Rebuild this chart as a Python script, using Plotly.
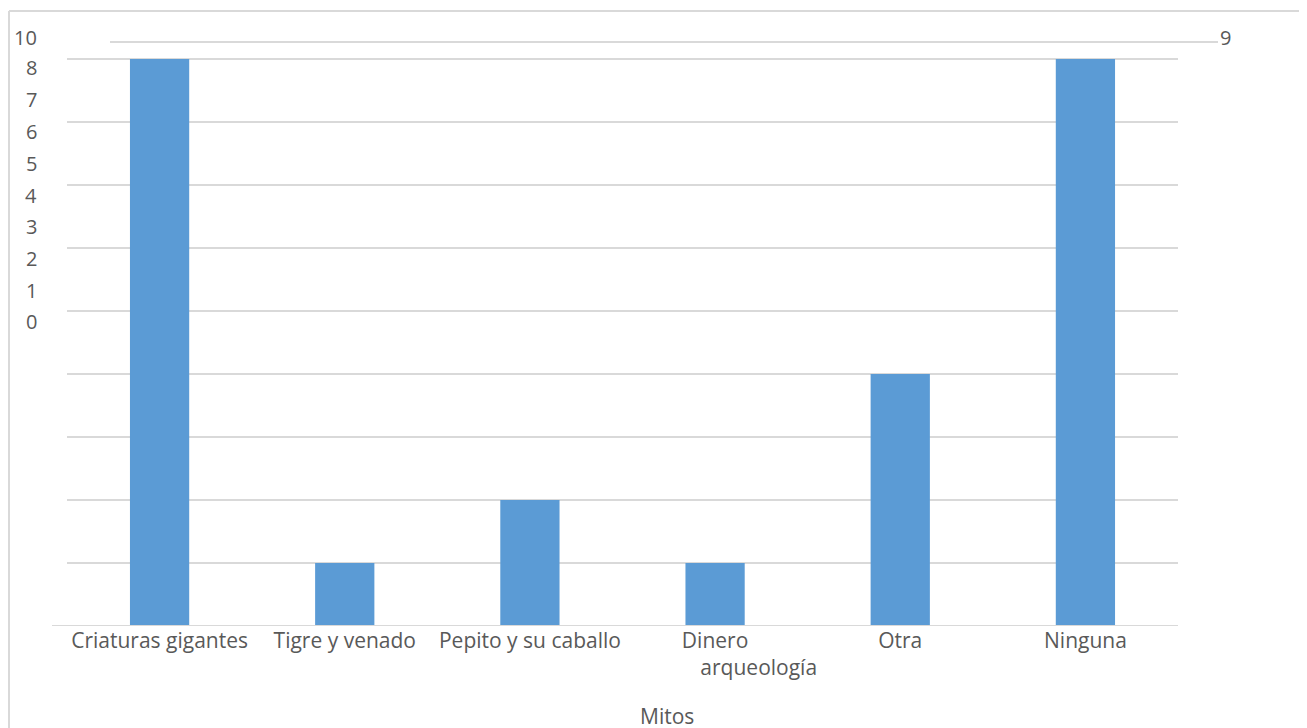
import plotly.graph_objects as go

categories = ["Criaturas gigantes", "Tigre y venado", "Pepito y su caballo",
              "Dinero arqueología", "Otra", "Ninguna"]
tick_labels = ["Criaturas gigantes", "Tigre y venado", "Pepito y su caballo",
               "Dinero<br>" + "\u00a0" * 16 + "arqueología", "Otra", "Ninguna"]
values = [9, 1, 2, 1, 4, 9]
left_labels = ["10", "8", "7", "6", "5", "4", "3", "2", "1", "0"]
right_label = "9"
axis_title = "Mitos"

W, H = 1307, 728
OFF = 8  # page body margin
L, R, T, B = 67 - OFF, 1178 - OFF, 42 - OFF, 626 - OFF  # plot area in figure pixels
pw, ph = R - L, B - T


def px(x):
    return (x - OFF - L) / pw


def py(y):
    return (B - (y - OFF)) / ph


FONT = "Open Sans"
TXT = "#595959"
GRID = "#d9d9d9"

fig = go.Figure(go.Bar(x=categories, y=values, marker_color="#5B9BD5",
                       marker_line_width=0))

left_y = [37, 68, 100, 132, 163, 195, 226, 258, 290, 321]
annotations = []
for lab, yy in zip(left_labels, left_y):
    annotations.append(dict(text=lab, x=px(39), y=py(yy), xref="paper", yref="paper",
                            xanchor="right", yanchor="middle", showarrow=False,
                            font=dict(family=FONT, size=20, color=TXT)))
annotations.append(dict(text=right_label, x=px(1218), y=py(37), xref="paper", yref="paper",
                        xanchor="left", yanchor="middle", showarrow=False,
                        font=dict(family=FONT, size=20, color=TXT)))
annotations.append(dict(text=axis_title, x=px(667), y=py(716), xref="paper", yref="paper",
                        xanchor="center", yanchor="middle", showarrow=False,
                        font=dict(family=FONT, size=21, color=TXT)))

shapes = [
    # extra top line
    dict(type="line", xref="paper", yref="paper", x0=px(110), x1=px(1218), y0=py(42), y1=py(42),
         line=dict(color=GRID, width=2)),
    # baseline
    dict(type="line", xref="paper", yref="y", x0=px(52), x1=1, y0=0, y1=0,
         line=dict(color=GRID, width=2)),
    # chart border
    dict(type="line", xref="paper", yref="paper", x0=px(9), x1=px(1320), y0=py(11), y1=py(11),
         line=dict(color=GRID, width=2)),
    dict(type="line", xref="paper", yref="paper", x0=px(9), x1=px(9), y0=py(11), y1=py(740),
         line=dict(color=GRID, width=2)),
]

fig.update_layout(
    width=W, height=H,
    margin=dict(l=L, r=W - R, t=T, b=H - B, autoexpand=False),
    paper_bgcolor="white", plot_bgcolor="white",
    bargap=0.68,
    showlegend=False,
    font=dict(family=FONT, size=21, color=TXT),
    xaxis=dict(tickvals=categories, ticktext=tick_labels, showgrid=False, ticks="",
               tickangle=0, automargin=False,
               showline=False, zeroline=False, tickfont=dict(size=21, color=TXT)),
    yaxis=dict(range=[0, 9.27], dtick=1, showticklabels=False, showgrid=True,
               automargin=False,
               gridcolor=GRID, gridwidth=2, zeroline=False, showline=False, ticks=""),
    annotations=annotations,
    shapes=shapes,
)

fig.write_html("out.html")
